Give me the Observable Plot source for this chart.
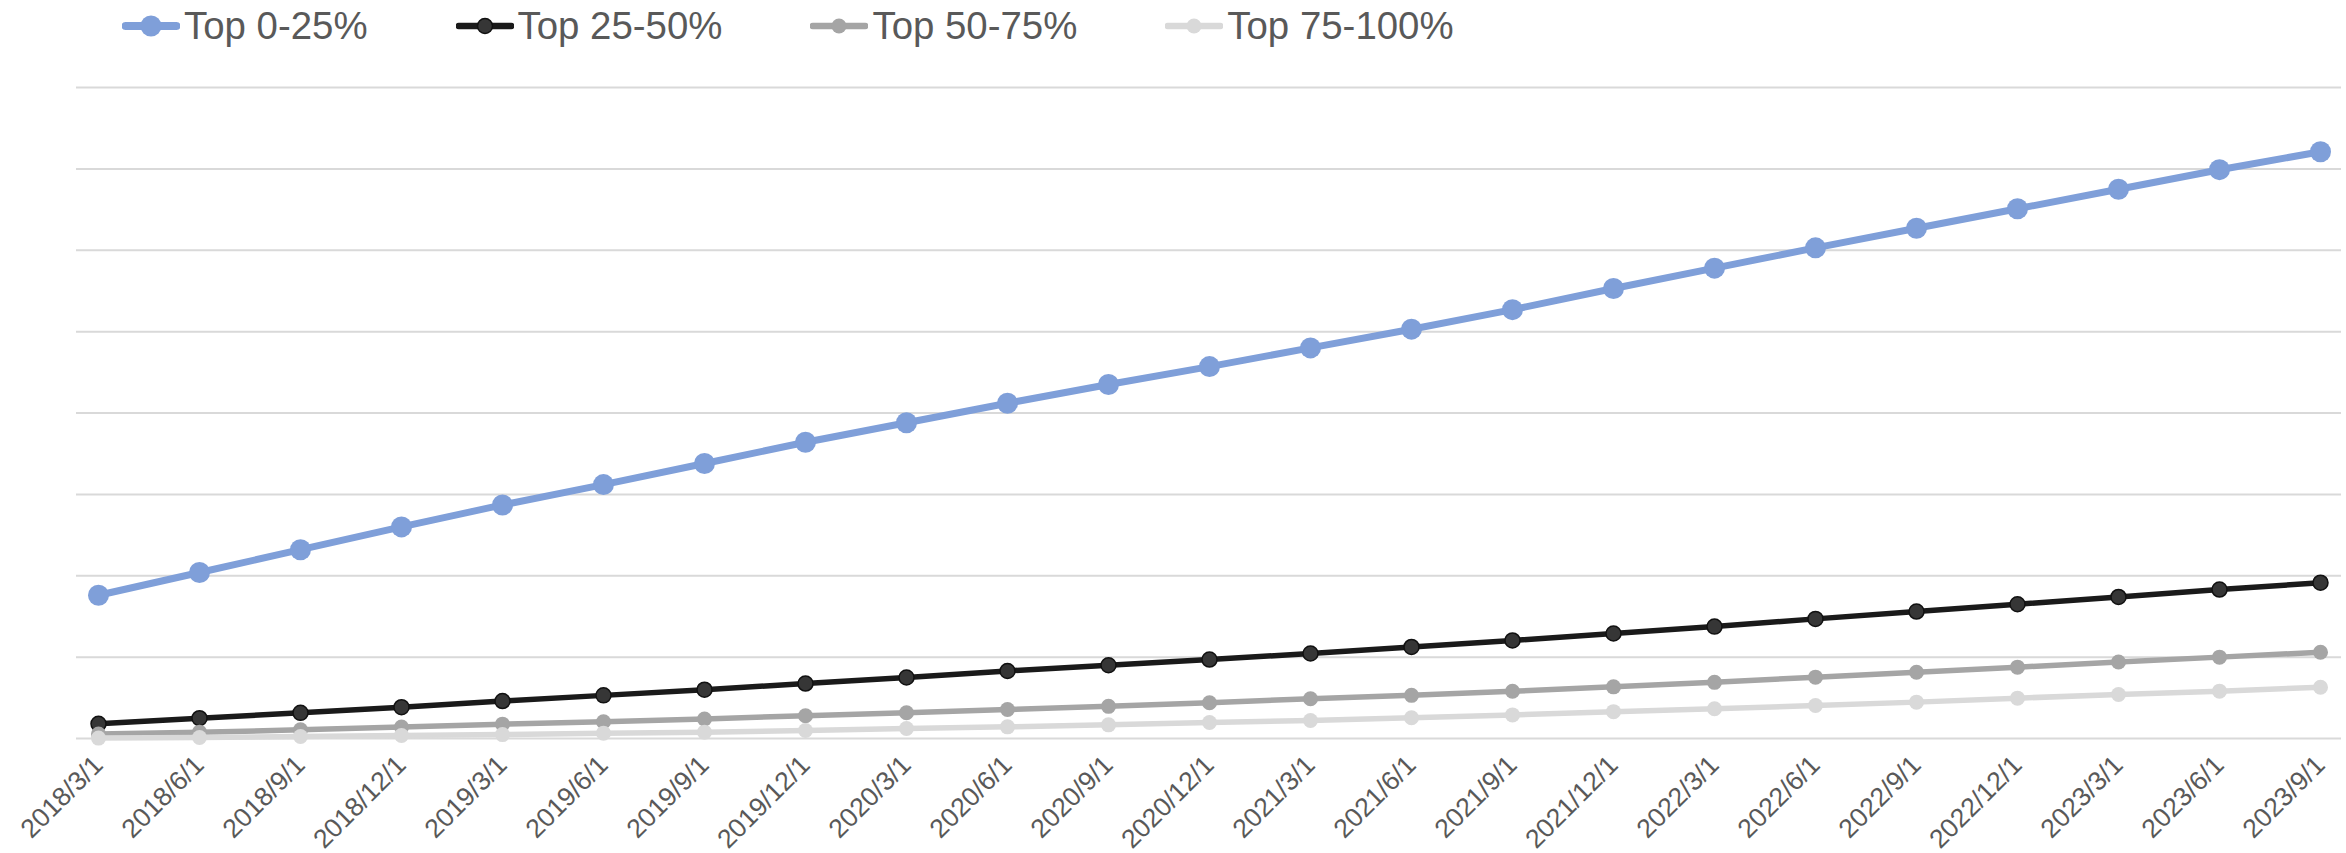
<!DOCTYPE html>
<html>
<head>
<meta charset="utf-8">
<script src="https://cdn.jsdelivr.net/npm/d3@7"></script>
<script src="https://cdn.jsdelivr.net/npm/@observablehq/plot@0.6"></script>
<style>
  html, body { margin: 0; padding: 0; background: #ffffff; }
  body { width: 2346px; height: 853px; overflow: hidden; font-family: "Liberation Sans", Arial, sans-serif; }
  #legend { height: 52px; display: flex; align-items: center; padding-left: 122px; gap: 88px; }
  .item { display: flex; align-items: center; gap: 4px; color: #595959; font-size: 38.4px; white-space: nowrap; }
  .item svg { display: block; }
  #chart svg { display: block; }
</style>
</head>
<body>
<div id="legend"></div>
<div id="chart"></div>
<script>
// Quarterly observation dates (category axis labels)
const dates = [
  "2018/3/1", "2018/6/1", "2018/9/1", "2018/12/1",
  "2019/3/1", "2019/6/1", "2019/9/1", "2019/12/1",
  "2020/3/1", "2020/6/1", "2020/9/1", "2020/12/1",
  "2021/3/1", "2021/6/1", "2021/9/1", "2021/12/1",
  "2022/3/1", "2022/6/1", "2022/9/1", "2022/12/1",
  "2023/3/1", "2023/6/1", "2023/9/1"
];

const seriesNames = ["Top 0-25%", "Top 25-50%", "Top 50-75%", "Top 75-100%"];

const top0to25 = [176, 204, 232, 260, 287, 312, 338, 364, 388, 412, 435, 457, 480, 503, 527, 553, 578, 603, 627, 651, 675, 699, 721];
const top25to50 = [18, 25, 31.5, 38.5, 46, 53, 60, 67.5, 75, 83, 90, 97, 104.5, 112.5, 120.5, 129, 137.5, 147, 156, 165, 174, 183, 191.5];
const top50to75 = [5.5, 7.8, 10.6, 14, 17.6, 20.5, 24, 28, 31.6, 35.7, 39.5, 44, 48.8, 53, 58, 63.5, 69, 75.4, 81.5, 87.7, 94, 100, 106];
const top75to100 = [0.5, 1.2, 2.5, 3.7, 4.8, 6.6, 7.8, 9.8, 12.3, 14.3, 16.8, 19.7, 22.1, 25.5, 29, 33, 36.5, 40.6, 44.7, 49.6, 54, 58.2, 63];

// Horizontal gridline values
const yTicks = [0, 100, 200, 300, 400, 500, 600, 700, 800];

// Drawing style per series
const styles = [
  {line: "#7f9fd9", width: 7, r: 10.5, fill: "#7f9fd9", stroke: "none", sw: 0},
  {line: "#1a1a1a", width: 5.5, r: 7.5, fill: "#363636", stroke: "#111111", sw: 1.5},
  {line: "#a5a5a5", width: 5.5, r: 7.5, fill: "#a5a5a5", stroke: "none", sw: 0},
  {line: "#d9d9d9", width: 5.5, r: 7.5, fill: "#d9d9d9", stroke: "none", sw: 0}
];

const seriesValues = [top0to25, top25to50, top50to75, top75to100];
const series = seriesNames.map((name, i) => ({
  name,
  style: styles[i],
  rows: dates.map((d, j) => ({date: d, value: seriesValues[i][j], series: name}))
}));

// Legend: line-with-marker swatch followed by the series name
const legend = document.getElementById("legend");
for (const s of series) {
  const item = document.createElement("div");
  item.className = "item";
  const st = s.style;
  item.innerHTML =
    `<svg width="58" height="24" viewBox="0 0 58 24">` +
    `<line x1="${st.width / 2}" y1="12" x2="${58 - st.width / 2}" y2="12" stroke="${st.line}" stroke-width="${st.width + 1}" stroke-linecap="round"/>` +
    `<circle cx="29" cy="12" r="${st.r}" fill="${st.fill}" stroke="${st.stroke}" stroke-width="${st.sw}"/>` +
    `</svg><span>${s.name}</span>`;
  legend.appendChild(item);
}

const marks = [
  Plot.gridY(yTicks, {stroke: "#d9d9d9", strokeOpacity: 1, strokeWidth: 2}),
  Plot.axisX({
    tickRotate: -45,
    tickSize: 0,
    tickPadding: 22,
    fontSize: 26.5,
    fill: "#595959",
    label: null
  })
];
for (const s of series) {
  const st = s.style;
  marks.push(
    Plot.line(s.rows, {x: "date", y: "value", stroke: st.line, strokeWidth: st.width, strokeLinejoin: "round"}),
    Plot.dot(s.rows, {x: "date", y: "value", r: st.r, fill: st.fill, stroke: st.stroke, strokeWidth: st.sw})
  );
}

const chart = Plot.plot({
  width: 2346,
  height: 801,
  marginLeft: 76,
  marginRight: 5,
  marginTop: 35,
  marginBottom: 115,
  style: {fontFamily: "Liberation Sans, Arial, sans-serif", background: "#ffffff"},
  x: {type: "point", domain: dates, padding: 0.14},
  y: {domain: [0, 800], axis: null},
  marks
});
document.getElementById("chart").appendChild(chart);
</script>
</body>
</html>
